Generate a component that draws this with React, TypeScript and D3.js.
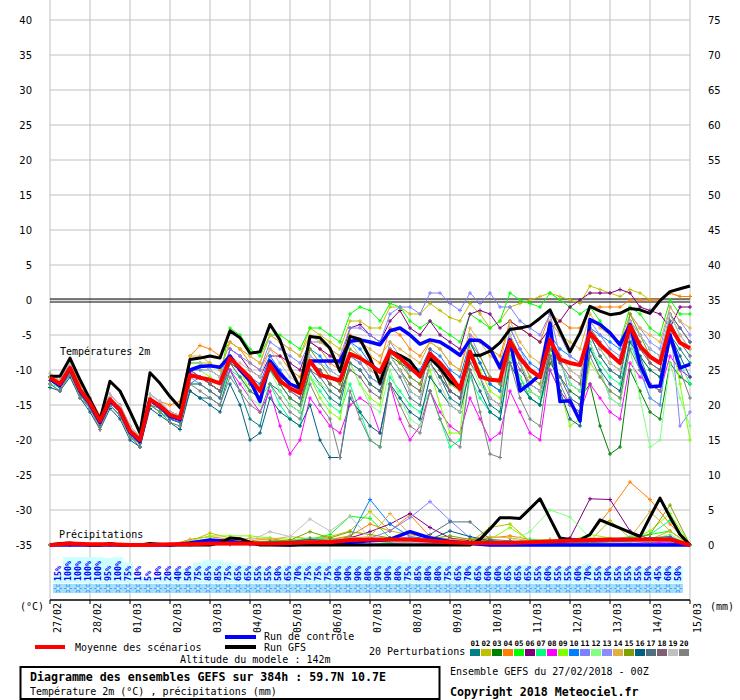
import React from 'react';
import * as d3 from 'd3';

// forecast hours
const hours6 = d3.range(0, 385, 6);
const hours12 = d3.range(0, 385, 12);
const dateLabels = ['27/02', '28/02', '01/03', '02/03', '03/03', '04/03', '05/03', '06/03', '07/03', '08/03', '09/03', '10/03', '11/03', '12/03', '13/03', '14/03', '15/03'];
const tempTicks = [40, 35, 30, 25, 20, 15, 10, 5, 0, -5, -10, -15, -20, -25, -30, -35];

// 2m temperature, 6-hourly
const meanT = [-11.1, -12, -9.7, -12.8, -14.7, -17.3, -14.2, -15.7, -18.7, -20, -14.2, -15.1, -16.4, -16.9, -10.7, -11.1, -11.4, -11.9, -8.3, -9.7, -11.1, -13, -9.2, -11.6, -12.6, -13.3, -8.7, -10.7, -11.1, -11.5, -7.7, -8.3, -9.2, -10.3, -7.3, -8.3, -9.6, -10.9, -7.7, -9, -10.7, -12.7, -7.4, -10.9, -11.4, -11.5, -5.9, -8.3, -10, -11, -5.7, -8.5, -9, -9.3, -4.7, -6.4, -7.7, -9, -3.7, -6.6, -8.1, -9, -3.7, -6.1, -6.9];
const controlT = [-11.3, -12.2, -9.8, -13, -14.9, -17.5, -14.4, -15.8, -18.9, -20.2, -14.3, -15.2, -16.6, -17.1, -10, -9.5, -9.4, -9.6, -8, -10, -11.5, -14.5, -8.7, -10.5, -12, -12.6, -8.7, -8.7, -8.7, -8.7, -5.9, -5.7, -6, -6.4, -4.4, -4, -5, -6.3, -5.7, -6, -6.9, -7.9, -5.7, -5.8, -6.9, -9.7, -5.7, -13, -11.9, -10.7, -3.3, -14.5, -14.4, -17.3, -2.8, -3.5, -4.7, -6.4, -3.5, -9.2, -12.4, -12.3, -5, -9.7, -9.2];
const gfsT = [-10.9, -10.9, -8.3, -11.4, -14.2, -17.1, -11.6, -13, -15.9, -19, -10.4, -11.9, -13.8, -15.4, -8.5, -8.3, -8, -8.3, -4.4, -5.4, -7.6, -7.4, -3.5, -5.7, -9.7, -12.6, -5.2, -5.4, -6.9, -10.2, -5.2, -5.6, -8.3, -11.9, -7.3, -7.9, -8.7, -10.7, -8.3, -9.7, -11.6, -12.6, -7.9, -7.9, -7.3, -6.1, -4.2, -4, -3.7, -2.6, -1.4, -4.4, -7.4, -4.7, -0.9, -1.6, -2.1, -1.9, -1.2, -1.4, -1.9, -0.1, 1.2, 1.6, 2];

const t01 = [-12, -13, -10.5, -13.5, -15.5, -18, -15, -16.5, -19.5, -21, -15, -16, -17, -17.5, -13, -14, -14, -15, -10, -13, -17, -18, -12, -13, -15, -16, -10, -12, -14, -15, -9, -10, -12, -13, -8, -10, -13, -14, -9, -11, -14, -15, -8, -11, -15, -16, -6, -9, -13, -14, -7, -9, -12, -13, -5, -8, -10, -11, -4, -8, -12, -13, -5, -7, -9];
const t02 = [-11, -11.5, -9.5, -12.5, -14.5, -17, -14, -15.5, -18.5, -19.5, -14, -15, -16, -16.5, -9, -9, -9, -10, -6, -7, -8, -9, -5, -6, -7, -8, -4, -5, -6, -7, -3, -3, -4, -4, -1, -1, -2, -2, -0.5, -1.5, -2.5, -3, -0.5, -2, -4, -3, -1, -0.5, 0, 0.5, 1, 0.5, 0, -0.5, 2, 1.5, 1, 0.5, 1.5, 1, 0, 0, 1, 0.5, 0.5];
const t03 = [-11.5, -12.5, -10, -13, -15, -17.5, -14.5, -16, -19, -20.5, -14.5, -15.5, -16.5, -17, -11, -11, -12, -13, -9, -10, -12, -13, -10, -12, -14, -15, -9, -10, -12, -13, -8, -9, -11, -12, -8, -9, -10, -11, -9, -11, -13, -14, -6, -9, -12, -13, -8, -11, -14, -15, -9, -11, -13, -14, -12, -18, -22, -21, -10, -13, -16, -17, -9, -11, -12];
const t04 = [-10.5, -11.5, -9, -12, -14, -16.5, -13.5, -15, -18, -19.5, -13.5, -14.5, -15, -14.5, -8, -6.5, -7, -8, -6, -7, -9, -10, -7, -8, -10, -11, -6, -7, -9, -10, -5, -6, -8, -9, -4, -5, -7, -8, -6, -7, -9, -10, -5, -6, -7, -8, -3, -4, -5, -6, -2, -3, -4, -4, -1, -1, -1, -1, 0, 0, 0, 0, 1, 0.5, 0.5];
const t05 = [-11.5, -12, -10, -13, -15, -17.5, -14.5, -16, -19, -20, -14.5, -15.5, -16.5, -17, -9, -9, -10, -11, -4, -5, -7, -8, -5, -5, -6, -7, -4, -4, -5, -6, -2, -1, -1.5, -3, -0.5, -1, -3, -4, -3, -4, -5, -6, -2, -3, -4, -3, 1, 0, -0.5, -1, 1, 0, -1, -2, -1, -3, -5, -6, -1, -2, -4, -5, 0, -2, -2];
const t06 = [-11, -12, -9.5, -12.5, -14.5, -17, -14, -15.5, -18.5, -20, -14, -15, -16, -16.5, -10, -11, -12, -13, -7, -8, -10, -11, -8, -8, -9, -10, -6, -7, -8, -9, -4, -3.5, -5, -6, -3, -1.5, -4, -5, -3, -5, -6, -7, -2, -1.5, -2, -4, -3, -4, -5, -6, -4, -3, -1, 0, 1, 1, 1, 1.5, 1, -1, -1.5, -2, -4, -1, -1];
const t07 = [-12, -12.5, -10.5, -13.5, -15.5, -18, -15, -16.5, -19.5, -20.5, -15, -16, -17, -17.5, -12, -12, -13, -14, -10, -11, -13, -14, -12, -15, -17, -18, -11, -13, -15, -16, -12, -16, -20, -21, -11, -13, -15, -16, -13, -17, -21, -20, -11, -14, -16, -17, -8, -11, -14, -15, -10, -13, -15, -16, -7, -9, -11, -12, -6, -10, -14, -15, -5, -9, -12];
const t08 = [-11.5, -12.5, -10, -13, -15, -18, -14.5, -16, -19, -20.5, -14.5, -15.5, -17, -17.5, -11, -11, -12, -13, -10, -12, -14, -16, -13, -18, -22, -20, -14, -16, -18, -19, -15, -14, -15, -19, -12, -17, -20, -18, -13, -16, -18, -19, -14, -17, -20, -19, -13, -16, -19, -20, -10, -13, -15, -16, -12, -14, -16, -17, -9, -11, -12, -13, -8, -10, -11];
const t09 = [-11, -12, -9.5, -12.5, -14.5, -17, -14, -15.5, -18.5, -20, -14, -15, -16.5, -17, -10, -10, -11, -12, -8, -10, -13, -14, -10, -12, -14, -15, -11, -14, -16, -17, -9, -12, -14, -15, -8, -10, -12, -13, -10, -15, -19, -19, -7, -10, -13, -14, -6, -9, -12, -13, -7, -13, -18, -17, -9, -11, -13, -14, -5, -8, -10, -11, -4, -12, -20];
const t10 = [-11.5, -12.5, -10, -13, -15, -17.5, -14.5, -16, -19, -20.5, -14.5, -15.5, -17, -17.5, -12, -11, -12, -13, -9, -10, -11, -12, -8, -10, -12, -13, -7, -8, -10, -11, -6, -7, -9, -10, -7, -8, -9, -10, -7, -8, -10, -11, -6, -9, -12, -13, -4, -7, -9, -10, -5, -7, -8, -9, -4, -5, -6, -7, -3, -5, -7, -8, -2, -4, -6];
const t11 = [-10.5, -11.5, -9, -12.5, -14, -17, -13.5, -15, -18, -19.5, -13.5, -14.5, -16, -16.5, -10, -10, -10, -11, -7, -8, -9, -10, -6, -7, -8, -9, -6, -6, -7, -8, -4, -4, -5, -6, -2, -1, -1, -2, 1, 1, -0.5, -1.5, 1, -0.5, 1, -1, -1, -3, -4, -5, -2, -8, -14, -15, -6, -10, -14, -15, -5, -10, -14, -15, -3, -18, -16];
const t12 = [-12, -13, -10.5, -13.5, -15.5, -18, -15, -16.5, -19.5, -21, -15, -16, -17.5, -18, -11, -12, -13, -14, -9, -11, -14, -15, -10, -13, -15, -16, -11, -12, -13, -14, -9, -12, -15, -16, -10, -14, -17, -18, -11, -13, -15, -16, -9, -12, -14, -15, -8, -11, -13, -14, -6, -9, -12, -13, -6, -10, -14, -15, -7, -14, -21, -20, -9, -14, -18];
const t13 = [-11, -12, -9.5, -13, -14.5, -17.5, -14, -15.5, -18.5, -20, -14, -15, -16.5, -17, -11, -12, -13, -14, -8, -10, -12, -13, -9, -11, -13, -14, -8, -9, -11, -12, -8, -9, -11, -12, -6, -8, -11, -12, -8, -10, -13, -14, -5, -8, -11, -12, -4, -7, -10, -11, -3, -5, -8, -9, -3, -5, -7, -8, -2, -4, -6, -7, -1, -3, -5];
const t14 = [-10.5, -11.5, -9.5, -12.5, -14.5, -17, -14, -15.5, -18.5, -19.5, -14, -15, -16, -16.5, -8, -8, -9, -10, -6, -7, -8, -9, -5, -6, -7, -8, -5, -6, -7, -8, -5, -6, -7, -8, -6, -7, -8, -9, -6, -7, -9, -10, -4, -6, -8, -9, -3, -6, -8, -9, -3, -5, -6, -7, -2, -4, -5, -6, -2, -4, -5, -6, -1, -3, -4];
const t15 = [-11, -12, -10, -13, -15, -17.5, -14.5, -16, -19, -20, -14.5, -15, -16.5, -17, -11, -11, -12, -13, -8, -10, -12, -13, -9, -11, -12, -13, -7, -9, -11, -12, -7, -8, -10, -11, -7, -9, -11, -12, -8, -10, -12, -13, -6, -8, -11, -12, -5, -8, -11, -12, -6, -8, -10, -11, -4, -7, -9, -10, -2, -5, -8, -9, -2, -5, -7];
const t16 = [-12.5, -13, -11, -14, -16, -18.5, -15.5, -17, -20, -21, -15.5, -16.5, -17.5, -18.5, -13, -14, -15, -16, -12, -15, -20, -19, -14, -16, -17, -18, -15, -20, -22.5, -22.5, -14, -16, -18, -19, -12, -14, -16, -17, -11, -13, -15, -16, -10, -13, -16, -17, -9, -12, -14, -15, -8, -13, -17, -18, -7, -10, -12, -13, -6, -8, -10, -11, -5, -8, -11];
const t17 = [-11.5, -12.5, -10.5, -13.5, -15.5, -18, -15, -16.5, -19.5, -20.5, -15, -15.5, -17, -17.5, -12, -12, -13, -14, -9, -11, -13, -14, -10, -12, -14, -15, -10, -11, -13, -14, -9, -10, -12, -13, -9, -11, -14, -15, -9, -11, -13, -14, -8, -11, -14, -15, -6, -9, -12, -13, -8, -11, -14, -15, -5, -8, -10, -11, -4, -7, -9, -10, -3, -6, -8];
const t18 = [-11.5, -12, -10, -13, -15, -17.5, -14.5, -16, -19, -20, -14.5, -15.5, -16.5, -17, -10, -11, -12, -13, -9, -10, -12, -13, -9, -11, -13, -14, -9, -10, -12, -13, -10, -11, -13, -14, -8, -10, -12, -13, -7, -10, -13, -14, -9, -11, -14, -15, -7, -10, -12, -13, -7, -9, -11, -12, -4, -6, -8, -9, -3, -6, -9, -10, -2, -4, -6];
const t19 = [-10.5, -11.5, -9, -12.5, -14, -17, -13.5, -15, -18, -19.5, -13.5, -14.5, -16, -16.5, -9, -9, -10, -11, -8, -9, -10, -11, -7, -9, -11, -12, -8, -9, -10, -11, -6, -8, -10, -11, -8, -10, -13, -14, -9, -12, -15, -16, -7, -11, -14, -15, -5, -9, -12, -13, -6, -8, -10, -11, -4, -7, -9, -10, -3, -5, -7, -8, -2, -5, -7];
const t20 = [-12, -13, -10.5, -14, -15.5, -18.5, -15, -16.5, -19.5, -21, -15, -16, -17.5, -18, -12, -13, -14, -15, -11, -13, -15, -16, -12, -14, -16, -17, -12, -15, -17, -22.5, -13, -17, -20, -21, -12, -15, -18, -19, -13, -17, -20, -21, -10, -16, -22, -22.5, -9, -14, -17, -18, -8, -12, -15, -16, -8, -11, -13, -14, -7, -10, -12, -13, -6, -10, -14];

// precipitation (mm), perturbations / mean / control 12-hourly, GFS 6-hourly
const meanP = [0, 0.2, 0.1, 0.1, 0, 0, 0.1, 0.1, 0.2, 0.2, 0.2, 0.2, 0.3, 0.4, 0.4, 0.7, 0.8, 0.8, 0.8, 0.6, 0.4, 0.3, 0.3, 0.3, 0.4, 0.5, 0.6, 0.7, 0.8, 0.8, 0.8, 0.8, 0];
const controlP = [0, 0, 0, 0, 0, 0, 0, 0.3, 0.7, 0.5, 0.2, 0.1, 0, 0.2, 0.3, 0.4, 0.6, 0.8, 1.9, 1, 0.5, 0.2, 0, 0, 0, 0, 0, 0, 0, 0, 0, 0, 0];
const gfsP = [0, 0.2, 0.3, 0.1, 0, 0, 0.2, 0, 0, 0, 0.2, 0.1, 0, 0, 0, 0, 0, 0.3, 1, 0.9, 0.4, 0, 0, 0, 0, 0, 0, 0, 0, 0, 0, 0, 0, 0, 0, 0, 0, 0, 0, 0, 0, 0, 0, 0.8, 2.3, 3.9, 3.9, 3.8, 5.2, 6.6, 3.8, 1, 0.8, 0.7, 1.5, 3.6, 3, 2.4, 1.8, 1.2, 4, 6.7, 4, 1.5, 0];
const p01 = [0, 0, 0, 0, 0, 0, 0, 0.3, 0.8, 0.5, 0.2, 0.3, 0.5, 0.8, 0.6, 1.2, 0.8, 0.5, 1, 0.6, 0.3, 0.2, 0.4, 0.3, 0.2, 0.6, 0.4, 0.3, 0.5, 0.4, 1, 0.8, 0];
const p02 = [0, 0, 0, 0, 0, 0, 0, 0.5, 1.7, 1, 0.6, 0.4, 0.6, 0.8, 1.2, 2, 4.8, 2, 1.5, 1.2, 0.8, 0.4, 2.5, 3, 0.5, 0.4, 0.3, 0.6, 3.5, 1, 0.8, 2, 0];
const p03 = [0, 0, 0, 0, 0, 0, 0, 0.2, 0.6, 0.4, 0.3, 0.2, 0.4, 0.3, 0.5, 0.8, 0.6, 0.4, 0.7, 0.5, 0.4, 0.2, 0.3, 0.2, 0.4, 0.3, 0.2, 0.2, 0.4, 0.6, 0.8, 0.5, 0];
const p04 = [0, 0, 0, 0, 0, 0, 0, 0.8, 1.2, 0.8, 0.6, 0.9, 0.5, 1, 0.8, 1.3, 3, 2, 4.3, 1.2, 0.8, 0.6, 1, 1.3, 0.8, 0.5, 0.4, 1.5, 5, 9, 6.5, 3, 0];
const p05 = [0, 0, 0, 0, 0, 0, 0, 0.3, 0.8, 0.6, 0.4, 0.5, 0.6, 0.8, 1.5, 4.1, 3.8, 1, 0.5, 0.6, 0.4, 0.3, 0.6, 0.4, 0.5, 0.6, 0.5, 0.4, 0.8, 1, 1.5, 2, 0];
const p06 = [0, 0, 0, 0, 0, 0, 0, 0.2, 0.5, 0.4, 0.3, 0.4, 0.3, 0.5, 0.8, 1, 1.9, 3, 4.5, 2.5, 1, 0.6, 0.4, 0.3, 0.5, 0.6, 1, 6.6, 6.5, 2, 0.8, 0.8, 0];
const p07 = [0, 0, 0, 0, 0, 0, 0, 0.3, 0.6, 0.5, 0.4, 0.6, 0.7, 1, 0.8, 0.6, 0.5, 0.4, 0.6, 0.5, 0.4, 0.3, 0.5, 0.4, 0.8, 0.6, 0.5, 0.4, 0.8, 1.2, 1.5, 3.5, 0];
const p08 = [0, 0, 0, 0, 0, 0, 0, 0.1, 0.2, 0.1, 0.1, 0.2, 0.1, 0.2, 0.3, 0.2, 0.1, 0.2, 0.3, 0.2, 0.1, 0.2, 0.1, 0.3, 0.2, 0.4, 0.3, 0.2, 0.3, 0.2, 0.4, 0.3, 0];
const p09 = [0, 0, 0, 0, 0, 0, 0, 0.6, 1.3, 1.3, 1.3, 1, 0.8, 0.6, 0.9, 1, 0.8, 0.6, 0.5, 0.4, 0.6, 0.5, 0.8, 2.5, 0.6, 0.8, 0.6, 1.5, 1, 0.8, 2, 4.5, 0];
const p10 = [0, 0, 0, 0, 0, 0, 0, 0.2, 0.5, 0.4, 0.3, 0.4, 0.5, 0.6, 0.8, 1, 6.5, 3, 1.2, 0.8, 0.5, 0.4, 0.3, 0.5, 0.4, 0.3, 0.4, 0.5, 0.6, 0.8, 1, 1.2, 0];
const p11 = [0, 0, 0, 0, 0, 0, 0, 0.2, 0.4, 0.3, 0.2, 0.3, 0.5, 0.4, 0.6, 0.8, 1, 2, 3.9, 6.2, 3.5, 1, 0.5, 0.4, 0.3, 0.4, 0.5, 0.6, 0.4, 0.5, 0.8, 1, 0];
const p12 = [0, 0, 0, 0, 0, 0, 0, 0.3, 0.5, 0.4, 0.3, 0.5, 0.4, 0.6, 0.5, 0.8, 0.6, 0.5, 0.4, 0.6, 0.5, 0.4, 0.3, 0.5, 1.9, 5, 4, 1, 0.8, 0.6, 0.8, 1.5, 0];
const p13 = [0, 0, 0, 0, 0, 0, 0, 0.2, 0.4, 0.3, 0.2, 0.4, 0.3, 0.5, 0.4, 0.6, 0.5, 0.7, 1.2, 0.8, 0.6, 0.4, 0.3, 0.4, 0.3, 0.5, 0.4, 0.3, 0.4, 0.5, 0.6, 0.8, 0];
const p14 = [0, 0, 0, 0, 0, 0, 0, 0.5, 0.8, 0.6, 1, 0.8, 1.2, 0.9, 0.8, 1, 1.2, 4.5, 1.5, 1, 0.8, 0.9, 1.2, 1, 0.6, 0.8, 0.6, 0.5, 0.8, 1, 4.8, 2, 0];
const p15 = [0, 0, 0, 0, 0, 0, 0, 0.3, 0.6, 0.5, 0.4, 0.5, 0.7, 1.9, 1, 1.9, 1.5, 1, 0.8, 0.9, 1.3, 0.8, 0.6, 0.5, 0.4, 0.6, 0.5, 0.4, 0.6, 0.8, 1.5, 5.7, 0];
const p16 = [0, 0, 0, 0, 0, 0, 0, 0.1, 0.3, 0.2, 0.2, 0.4, 0.5, 0.8, 0.6, 0.5, 0.8, 1, 0.6, 0.8, 2, 1.2, 0.6, 0.4, 0.5, 0.3, 0.4, 0.5, 0.6, 0.5, 0.8, 1, 0];
const p17 = [0, 0, 0, 0, 0, 0, 0, 0.2, 0.4, 0.3, 0.2, 0.3, 0.4, 0.5, 0.6, 0.8, 0.7, 0.6, 0.8, 1.5, 3.3, 3.3, 0.8, 0.6, 0.4, 0.5, 0.3, 0.4, 0.6, 0.8, 1, 1.2, 0];
const p18 = [0, 0, 0, 0, 0, 0, 0, 0.2, 0.3, 0.2, 0.2, 0.3, 0.4, 0.3, 0.5, 0.4, 0.6, 0.5, 0.4, 0.5, 0.3, 0.4, 0.3, 0.2, 0.4, 0.3, 0.2, 0.3, 0.4, 0.5, 0.4, 0.6, 0];
const p19 = [0, 0, 0, 0, 0, 0, 0, 0.2, 0.5, 0.3, 0.6, 1.9, 1.2, 3.7, 2, 4.1, 1, 0.5, 0.4, 0.3, 0.5, 0.4, 0.3, 0.2, 0.3, 0.4, 0.3, 0.2, 0.3, 0.4, 0.5, 0.6, 0];
const p20 = [0, 0, 0, 0, 0, 0, 0, 0.1, 0.2, 0.1, 0.1, 0.2, 0.1, 0.2, 0.1, 0.2, 0.1, 0.2, 0.1, 0.1, 0.2, 0.1, 0.2, 0.1, 0.2, 0.1, 0.1, 0.2, 0.1, 0.2, 0.1, 0.2, 0];

const pertColors = ['#008080', '#c0c000', '#008000', '#ff8000', '#00ff00', '#800080', '#00ff80', '#ff00ff', '#80ff00', '#0080ff', '#8080ff', '#80ff80', '#8c8cff', '#e0b040', '#80a000', '#006080', '#507080', '#806070', '#c0c0c0', '#808080'];
const pertTemps = [t01, t02, t03, t04, t05, t06, t07, t08, t09, t10, t11, t12, t13, t14, t15, t16, t17, t18, t19, t20];
const pertRain = [p01, p02, p03, p04, p05, p06, p07, p08, p09, p10, p11, p12, p13, p14, p15, p16, p17, p18, p19, p20];

// snow probability per 6h slot (%)
const snowPct = [15, 100, 100, 100, 100, 95, 100, 75, 10, 5, 10, 20, 40, 50, 75, 85, 85, 75, 65, 65, 55, 55, 50, 65, 70, 75, 75, 75, 90, 90, 90, 80, 90, 90, 80, 75, 85, 80, 80, 75, 65, 70, 65, 60, 60, 65, 65, 65, 55, 60, 55, 55, 60, 70, 55, 50, 55, 55, 55, 50, 45, 60, 50];

const MONO = '"DejaVu Sans Mono", monospace';
const SANS = '"DejaVu Sans", sans-serif';

const x = d3.scaleLinear().domain([0, 384]).range([50, 690]);
const yT = d3.scaleLinear().domain([-35, 40]).range([545, 20]);
const yP = d3.scaleLinear().domain([0, 75]).range([545, 20]);

const linePath = (vals: number[], hrs: number[], y: d3.ScaleLinear<number, number>) =>
  d3.line<number>().x((_, i) => x(hrs[i])).y((d) => y(d))(vals) || '';

const crossPath = (vals: number[], hrs: number[], y: d3.ScaleLinear<number, number>) =>
  vals.map((d, i) => {
    const px = x(hrs[i]);
    const py = y(d);
    return `M${px - 2},${py}h4M${px},${py - 2}v4`;
  }).join('');

const App: React.FC = () => {
  const dayHours = dateLabels.map((_, i) => i * 24);
  const slotW = x(6) - x(0);

  return (
    <svg width={740} height={700} style={{ position: 'absolute', left: 0, top: 0, background: '#fff' }}>
      {/* grid */}
      <g stroke="#c0c0c0" strokeWidth={1}>
        {dayHours.map((h) => (
          <line key={h} x1={x(h)} x2={x(h)} y1={0} y2={600} />
        ))}
        {tempTicks.map((t) => (
          <line key={t} x1={50} x2={690} y1={yT(t)} y2={yT(t)} />
        ))}
      </g>
      {/* axis labels */}
      <g fontFamily={SANS} fontSize={10} fill="#000">
        {tempTicks.map((t) => (
          <text key={'l' + t} x={32} y={yT(t) + 4} textAnchor="end">{t}</text>
        ))}
        {tempTicks.map((t) => (
          <text key={'r' + t} x={708} y={yT(t) + 4}>{t + 35}</text>
        ))}
      </g>
      {/* freezing line */}
      <line x1={50} x2={690} y1={yT(0) - 1} y2={yT(0) - 1} stroke="#000" strokeWidth={1.2} />
      <line x1={50} x2={690} y1={yT(0) + 2} y2={yT(0) + 2} stroke="#000" strokeWidth={1.2} />

      <text x={60} y={355} fontFamily={MONO} fontSize={10}>Températures 2m</text>
      <text x={59} y={538} fontFamily={MONO} fontSize={10}>Précipitations</text>

      {/* snow probability row */}
      <g>
        {snowPct.map((p, i) => (
          <rect key={'b' + i} x={x(i * 6) + 3} y={583 - (4 + 0.22 * p)} width={slotW} height={4 + 0.22 * p} fill="#ccffff" />
        ))}
        <rect x={53} y={584} width={snowPct.length * slotW} height={9} fill="#a6dcff" />
        {snowPct.map((_, i) => {
          const cx = x(i * 6) + 8;
          return (
            <g key={'s' + i} stroke="#4aa6ee" strokeWidth={1.2}>
              <path d={`M${cx - 4},588.5h8M${cx - 2},584.5l4,8M${cx + 2},584.5l-4,8`} />
              <circle cx={cx} cy={588.5} r={1.2} fill="#fff" stroke="none" />
            </g>
          );
        })}
        {snowPct.map((p, i) => (
          <text
            key={'t' + i}
            transform={`translate(${x(i * 6) + 11},581) rotate(-90)`}
            fontFamily={MONO}
            fontSize={8.3}
            fontWeight="bold"
            fill="#0000ff"
          >
            {p}%
          </text>
        ))}
      </g>

      {/* perturbations: temperature and precipitation */}
      {pertTemps.map((vals, m) => (
        <g key={'pt' + m} stroke={pertColors[m]} fill="none" strokeWidth={1}>
          <path d={linePath(vals, hours6, yT)} />
          <path d={crossPath(vals, hours6, yT)} />
          <path d={linePath(pertRain[m], hours12, yP)} />
          <path d={crossPath(pertRain[m], hours12, yP)} />
        </g>
      ))}

      {/* control, GFS, mean */}
      <g fill="none" strokeLinejoin="round">
        <path d={linePath(controlT, hours6, yT)} stroke="#0000ff" strokeWidth={3.5} />
        <path d={linePath(controlP, hours12, yP)} stroke="#0000ff" strokeWidth={3.5} />
        <path d={linePath(gfsT, hours6, yT)} stroke="#000" strokeWidth={3} />
        <path d={linePath(gfsP, hours6, yP)} stroke="#000" strokeWidth={3} />
        <path d={linePath(meanT, hours6, yT)} stroke="#ff0000" strokeWidth={4} />
        <path d={linePath(meanP, hours12, yP)} stroke="#ff0000" strokeWidth={4} />
      </g>

      {/* x axis */}
      <line x1={50} x2={690} y1={600} y2={600} stroke="#000" strokeWidth={1.5} />
      {dayHours.map((h, i) => (
        <g key={'d' + i}>
          <line x1={x(h)} x2={x(h)} y1={600} y2={604} stroke="#000" />
          <text transform={`translate(${x(h) + 11},603) rotate(-90)`} textAnchor="end" fontFamily={MONO} fontSize={10}>
            {dateLabels[i]}
          </text>
        </g>
      ))}
      <text x={20} y={610} fontFamily={MONO} fontSize={10}>(°C)</text>
      <text x={710} y={610} fontFamily={MONO} fontSize={10}>(mm)</text>

      {/* legend */}
      <g fontFamily={MONO} fontSize={10}>
        <line x1={35} x2={65} y1={647} y2={647} stroke="#ff0000" strokeWidth={4} />
        <text x={75} y={651}>Moyenne des scénarios</text>
        <line x1={225} x2={256} y1={637} y2={637} stroke="#0000ff" strokeWidth={4} />
        <text x={264} y={640}>Run de contrôle</text>
        <line x1={225} x2={256} y1={647} y2={647} stroke="#000" strokeWidth={4} />
        <text x={264} y={651}>Run GFS</text>
        <text x={180} y={663}>Altitude du modele : 142m</text>
        <text x={369} y={655}>20 Perturbations</text>
        <text x={450} y={675}>Ensemble GEFS du 27/02/2018 - 00Z</text>
        <text x={450} y={696} fontSize={11.6} fontWeight="bold">Copyright 2018 Meteociel.fr</text>
      </g>
      {pertColors.map((c, i) => (
        <g key={'lg' + i}>
          <text x={475 + i * 11} y={646} textAnchor="middle" fontFamily={MONO} fontSize={7.5} fontWeight="bold">
            {String(i + 1).padStart(2, '0')}
          </text>
          <rect x={470 + i * 11} y={649} width={10} height={7} fill={c} />
        </g>
      ))}
      <rect x={20.5} y={667} width={419} height={32} fill="none" stroke="#000" strokeWidth={2} />
      <text x={30} y={681} fontFamily={MONO} fontSize={11.6} fontWeight="bold">
        Diagramme des ensembles GEFS sur 384h : 59.7N 10.7E
      </text>
      <text x={30} y={695} fontFamily={MONO} fontSize={10}>
        Température 2m (°C) , précipitations (mm)
      </text>
    </svg>
  );
};

export default App;
